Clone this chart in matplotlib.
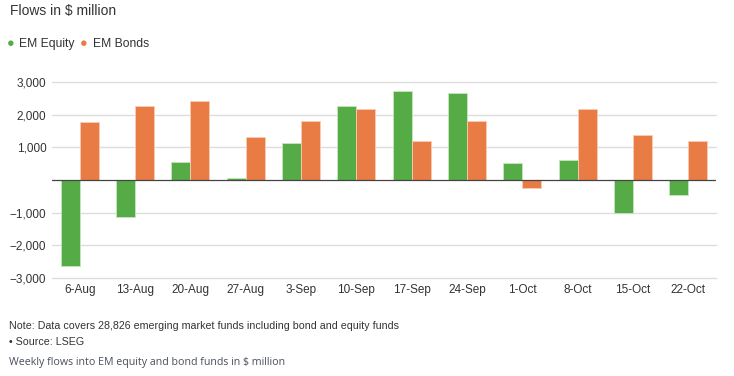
import numpy as np
import matplotlib
matplotlib.use("Agg")
import matplotlib.pyplot as plt

plt.rcParams["font.family"] = ["Liberation Sans", "DejaVu Sans"]

# Weekly flows, $ million
weeks = ["6-Aug", "13-Aug", "20-Aug", "27-Aug", "3-Sep", "10-Sep",
         "17-Sep", "24-Sep", "1-Oct", "8-Oct", "15-Oct", "22-Oct"]
equity = [-2630, -1120, 560, 60, 1140, 2275, 2735, 2650, 510, 620, -1010, -450]
bonds = [1775, 2275, 2410, 1305, 1795, 2165, 1185, 1815, -255, 2165, 1365, 1195]
yticks = [-3000, -2000, -1000, 1000, 2000, 3000]

GREEN = "#55ab45"
ORANGE = "#e97b45"

W, H = 734, 376
fig = plt.figure(figsize=(W / 100, H / 100), dpi=100)
ax = fig.add_axes([52 / W, 1 - 278 / H, (716 - 52) / W, (278 - 82) / H])

x = np.arange(len(weeks))
bw = 0.345
ax.bar(x - bw / 2, equity, bw, color=GREEN, edgecolor="#c8e6c0", linewidth=0.6, zorder=3)
ax.bar(x + bw / 2, bonds, bw, color=ORANGE, edgecolor="#f6cdb5", linewidth=0.6, zorder=3)

ax.set_xlim(-0.5, len(weeks) - 0.5)
ax.set_ylim(-3000, 3000)
ax.set_yticks(yticks)
ax.set_yticklabels([f"{v:,}".replace("-", "\u2212") for v in yticks])
ax.set_xticks(x)
ax.set_xticklabels(weeks)
ax.tick_params(length=0, labelsize=8.5, colors="#333333", pad=4)
for s in ax.spines.values():
    s.set_visible(False)
for v in yticks:
    ax.axhline(v, color="#dddddd", linewidth=1, zorder=1, clip_on=False)
ax.axhline(0, color="#444444", linewidth=0.9, zorder=4)

fig.text(10 / W, 1 - 11 / H, "Flows in $ million", fontsize=10, color="#333333", va="center")
fig.text(7 / W, 1 - 44.5 / H, "\u25cf", fontsize=9, color=GREEN, va="center")
fig.text(19 / W, 1 - 44 / H, "EM Equity", fontsize=8.7, color="#333333", va="center")
fig.text(80 / W, 1 - 44.5 / H, "\u25cf", fontsize=9, color=ORANGE, va="center")
fig.text(93 / W, 1 - 44 / H, "EM Bonds", fontsize=8.7, color="#333333", va="center")

fig.text(9 / W, 1 - 326 / H,
         "Note: Data covers 28,826 emerging market funds including bond and equity funds",
         fontsize=7.65, color="#333333", va="center")
fig.text(9 / W, 1 - 342 / H, "\u2022 Source: LSEG", fontsize=7.65, color="#333333", va="center")
fig.text(9 / W, 1 - 362 / H, "Weekly flows into EM equity and bond funds in $ million",
         fontsize=7.7, color="#4a4f5a", va="center", family=["Open Sans", "DejaVu Sans"])

fig.savefig("out.png", dpi=100)
